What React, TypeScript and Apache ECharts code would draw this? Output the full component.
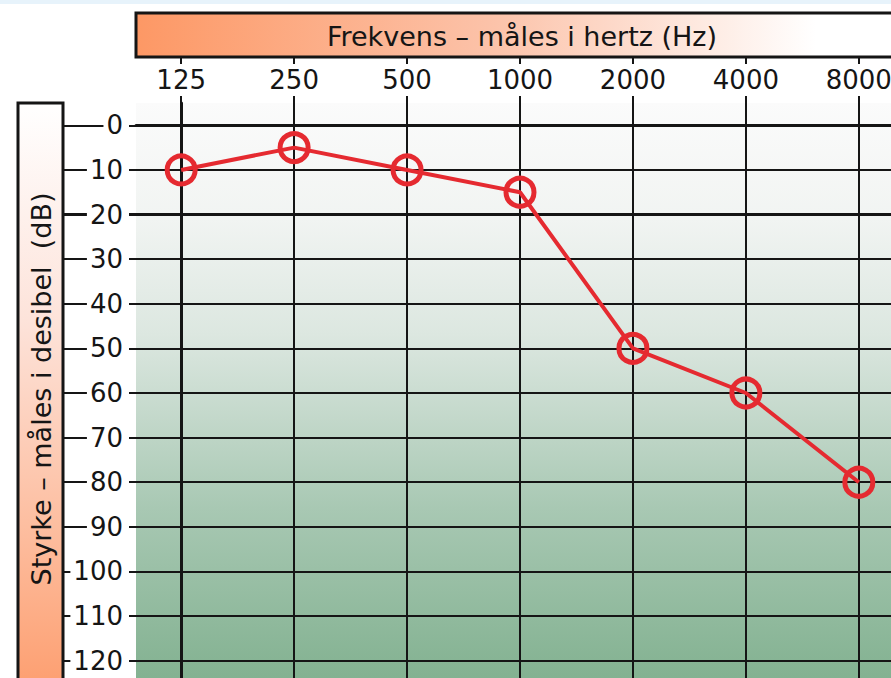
import React, { useEffect, useRef } from "react";
import * as echarts from "echarts";

const freqLabels = ["125", "250", "500", "1000", "2000", "4000", "8000"];
const freqIndex = [0, 1, 2, 3, 4, 5, 6];
const hearingDb = [10, 5, 10, 15, 50, 60, 80];
const dbTicks = [0, 10, 20, 30, 40, 50, 60, 70, 80, 90, 100, 110, 120];
const normalLimitDb = 20;

const FONT = "DejaVu Sans";
const RED = "#e52a30";
const INK = "#151515";

const X_MIN = -0.4;
const X_MAX = 6.4;
const Y_MIN = -5;
const Y_MAX = 125;

export default function App() {
  const ref = useRef<HTMLDivElement>(null);

  useEffect(() => {
    if (!ref.current) return;
    const chart = echarts.init(ref.current, null, { renderer: "svg" });
    const hiddenAxis = {
      show: false,
      type: "value",
      min: 0,
      max: 1,
    };
    const limitMarkLine = (width: number) => ({
      silent: true,
      symbol: "none",
      label: { show: false },
      lineStyle: { color: INK, width, type: "solid" },
      data: [{ yAxis: normalLimitDb }],
      z: 3,
    });
    const option: any = {
      animation: false,
      backgroundColor: "#ffffff",
      graphic: [
        {
          type: "rect",
          shape: { x: 0, y: 0, width: 891, height: 4 },
          style: { fill: "#e7f3fb" },
        },
        {
          type: "rect",
          shape: { x: 136, y: 13, width: 800, height: 44 },
          style: {
            fill: new echarts.graphic.LinearGradient(0, 0, 1, 0, [
              { offset: 0, color: "#fd9865" },
              { offset: 0.45, color: "#fcc3aa" },
              { offset: 0.85, color: "#ffffff" },
              { offset: 1, color: "#ffffff" },
            ]),
            stroke: INK,
            lineWidth: 3,
          },
        },
        {
          type: "text",
          x: 522,
          y: 36,
          style: {
            text: "Frekvens – måles i hertz (Hz)",
            font: `27px "${FONT}"`,
            fill: INK,
            align: "center",
            verticalAlign: "middle",
          },
        },
        {
          type: "rect",
          shape: { x: 18, y: 103, width: 45, height: 620 },
          style: {
            fill: new echarts.graphic.LinearGradient(0, 0, 0, 1, [
              { offset: 0, color: "#ffffff" },
              { offset: 0.35, color: "#fde3da" },
              { offset: 0.7, color: "#fdbc9d" },
              { offset: 1, color: "#fd9866" },
            ]),
            stroke: INK,
            lineWidth: 3,
          },
        },
        {
          type: "text",
          x: 41,
          y: 389,
          rotation: Math.PI / 2,
          style: {
            text: "Styrke – måles i desibel  (dB)",
            font: `27px "${FONT}"`,
            fill: INK,
            align: "center",
            verticalAlign: "middle",
          },
        },
      ],
      grid: [
        {
          left: 136,
          top: 103,
          width: 768,
          height: 580,
          show: true,
          borderWidth: 0,
          containLabel: false,
          outerBoundsMode: "none",
          backgroundColor: new echarts.graphic.LinearGradient(0, 0, 0, 1, [
            { offset: 0, color: "#fbfbfb" },
            { offset: 0.2, color: "#f1f4f2" },
            { offset: 0.4, color: "#dce7e0" },
            { offset: 0.7, color: "#a8c8b3" },
            { offset: 1, color: "#82b190" },
          ]),
        },
        // tick zone left of the plot (dB ticks)
        {
          left: 63,
          top: 103,
          width: 73,
          height: 580,
          show: false,
          containLabel: false,
          outerBoundsMode: "none",
        },
        // tick zone above the plot (frequency ticks)
        {
          left: 136,
          top: 57,
          width: 768,
          height: 46,
          show: false,
          containLabel: false,
          outerBoundsMode: "none",
        },
      ],
      xAxis: [
        {
          gridIndex: 0,
          type: "value",
          position: "top",
          min: X_MIN,
          max: X_MAX,
          z: 5,
          axisLine: { show: true, lineStyle: { color: INK, width: 3 } },
          axisTick: { show: false, customValues: freqIndex },
          axisLabel: {
            customValues: freqIndex,
            formatter: (v: number) => freqLabels[Math.round(v)] ?? "",
            margin: 7,
            fontFamily: FONT,
            fontSize: 26,
            color: INK,
            backgroundColor: "#ffffff",
            padding: [3, 3, 3, 3],
            lineHeight: 26,
          },
          splitLine: { show: true, lineStyle: { color: INK, width: 2 } },
        },
        { ...hiddenAxis, gridIndex: 1 },
        {
          gridIndex: 2,
          type: "value",
          min: X_MIN,
          max: X_MAX,
          z: 1,
          axisLine: { show: false },
          axisTick: { show: false, customValues: freqIndex },
          axisLabel: { show: false, customValues: freqIndex },
          splitLine: { show: true, lineStyle: { color: INK, width: 2 } },
        },
      ],
      yAxis: [
        {
          gridIndex: 0,
          type: "value",
          inverse: true,
          min: Y_MIN,
          max: Y_MAX,
          position: "left",
          z: 5,
          axisLine: { show: true, lineStyle: { color: INK, width: 3 } },
          axisTick: { show: false, customValues: dbTicks },
          axisLabel: {
            customValues: dbTicks,
            margin: 7,
            fontFamily: FONT,
            fontSize: 26,
            color: INK,
            backgroundColor: "#ffffff",
            padding: [2, 6, 2, 3],
            lineHeight: 26,
          },
          splitLine: { show: true, lineStyle: { color: INK, width: 2 } },
        },
        {
          gridIndex: 1,
          type: "value",
          inverse: true,
          min: Y_MIN,
          max: Y_MAX,
          z: 1,
          axisLine: { show: false },
          axisTick: { show: false, customValues: dbTicks },
          axisLabel: { show: false, customValues: dbTicks },
          splitLine: { show: true, lineStyle: { color: INK, width: 2 } },
        },
        { ...hiddenAxis, gridIndex: 2 },
      ],
      series: [
        {
          type: "line",
          xAxisIndex: 0,
          yAxisIndex: 0,
          data: freqIndex.map((i) => [i, hearingDb[i]]),
          symbol: "circle",
          symbolSize: 28,
          showAllSymbol: true,
          lineStyle: { color: RED, width: 4 },
          itemStyle: { color: "rgba(0,0,0,0)", borderColor: RED, borderWidth: 5 },
          z: 5,
          markLine: limitMarkLine(3),
        },
        {
          // carries only the thicker 20 dB tick in the left tick zone
          type: "line",
          xAxisIndex: 1,
          yAxisIndex: 1,
          data: [[0.5, normalLimitDb]],
          symbol: "none",
          lineStyle: { opacity: 0 },
          silent: true,
          z: 2,
          markLine: limitMarkLine(3),
        },
      ],
    };
    chart.setOption(option);
    return () => chart.dispose();
  }, []);

  return (
    <div
      ref={ref}
      style={{ position: "fixed", left: 0, top: 0, width: 891, height: 678 }}
    />
  );
}
